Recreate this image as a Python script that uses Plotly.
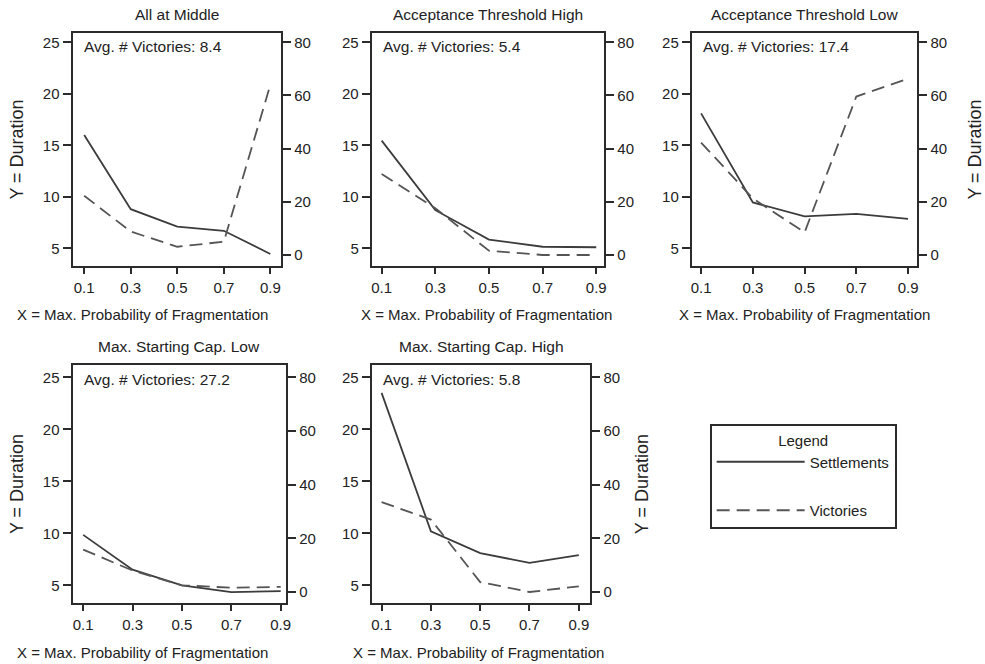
import plotly.graph_objects as go

W, H = 985, 664

# ---------------- data ----------------
x_vals = [0.1, 0.3, 0.5, 0.7, 0.9]
x_ticklabels = ["0.1", "0.3", "0.5", "0.7", "0.9"]
left_ticks = [5, 10, 15, 20, 25]
right_ticks = [0, 20, 40, 60, 80]

panel_titles = [
    "All at Middle",
    "Acceptance Threshold High",
    "Acceptance Threshold Low",
    "Max. Starting Cap. Low",
    "Max. Starting Cap. High",
]
avg_victories = [8.4, 5.4, 17.4, 27.2, 5.8]
x_title = "X = Max. Probability of Fragmentation"
y_title = "Y = Duration"

settlements_middle = [16.0, 8.8, 7.1, 6.7, 4.45]
settlements_acc_high = [15.45, 8.7, 5.85, 5.15, 5.1]
settlements_acc_low = [18.1, 9.45, 8.1, 8.35, 7.85]
settlements_cap_low = [9.85, 6.5, 5.0, 4.35, 4.45]
settlements_cap_high = [23.5, 10.2, 8.1, 7.15, 7.9]

victories_middle = [22.3, 8.8, 3.1, 5.0, 64.0]
victories_acc_high = [30.5, 17.6, 1.6, 0.0, 0.0]
victories_acc_low = [42.3, 21.3, 8.5, 59.6, 66.3]
victories_cap_low = [15.8, 8.0, 2.5, 1.6, 1.9]
victories_cap_high = [33.5, 27.0, 3.7, 0.0, 2.1]

settlements = [settlements_middle, settlements_acc_high, settlements_acc_low,
               settlements_cap_low, settlements_cap_high]
victories = [victories_middle, victories_acc_high, victories_acc_low,
             victories_cap_low, victories_cap_high]

# ---------------- layout geometry (pixels) ----------------
boxes = [  # left, right, top, bottom
    (72, 282, 33, 266),
    (373, 607, 33, 266),
    (695, 922, 33, 266),
    (72, 287, 365, 603),
    (373, 593, 365, 603),
]
x_title_pos = [(142, 314), (488, 314), (808, 314), (142, 652), (480, 652)]
x_ranges = [
    [0.050, 0.947],
    [0.063, 0.930],
    [0.064, 0.936],
    [0.057, 0.9225],
    [0.060, 0.947],
]
left_ranges = [[3.28, 25.9]] * 3 + [[3.30, 26.18]] * 2
right_ranges = [[-4.14, 83.5]] * 3 + [[-4.1, 84.6]] * 2
left_title = [True, False, False, True, False]
right_title = [False, False, True, False, True]
right_standoff = [16, 16, 24, 16, 16]

FONT = "Liberation Sans, Arial, Helvetica, sans-serif"
TXT = "#222222"
AX = "#2b2b2b"
SOLID_C = "#3c3c3c"
DASH_C = "#555555"

fig = go.Figure()
layout = dict(
    width=W, height=H,
    margin=dict(l=0, r=0, t=0, b=0),
    paper_bgcolor="white", plot_bgcolor="white",
    font=dict(family=FONT, size=15, color=TXT),
    showlegend=True,
    annotations=[],
)

for i in range(5):
    n = i + 1
    nr = i + 6
    l, r, t, b = boxes[i]
    xa = "x" if n == 1 else f"x{n}"
    ya = "y" if n == 1 else f"y{n}"
    yr = f"y{nr}"

    fig.add_trace(go.Scatter(
        x=x_vals, y=settlements[i], mode="lines", name="Settlements",
        line=dict(color=SOLID_C, width=1.8), xaxis=xa, yaxis=ya,
        showlegend=(i == 0), legendgroup="s"))
    fig.add_trace(go.Scatter(
        x=x_vals, y=victories[i], mode="lines", name="Victories",
        line=dict(color=DASH_C, width=1.8, dash="13px,7px"), xaxis=xa, yaxis=yr,
        showlegend=(i == 0), legendgroup="v"))

    layout[f"xaxis{n}"] = dict(
        domain=[l / W, r / W], range=x_ranges[i], anchor=ya,
        tickvals=x_vals, ticktext=x_ticklabels, ticks="outside", ticklen=6,
        tickcolor=AX, tickwidth=1.5, ticklabelstandoff=1,
        showline=True, linecolor=AX, linewidth=2, mirror=True,
        showgrid=False, zeroline=False,
    )
    layout[f"yaxis{n}"] = dict(
        domain=[1 - b / H, 1 - t / H], range=left_ranges[i], anchor=xa,
        tickvals=left_ticks, ticks="outside", ticklen=8, tickcolor=AX, tickwidth=1.5,
        showline=True, linecolor=AX, linewidth=2,
        showgrid=False, zeroline=False,
        title=dict(text=y_title if left_title[i] else "", standoff=15),
    )
    layout[f"yaxis{nr}"] = dict(
        overlaying=ya, side="right", anchor=xa, range=right_ranges[i],
        tickvals=right_ticks, ticks="outside", ticklen=8, tickcolor=AX, tickwidth=1.5,
        showline=True, linecolor=AX, linewidth=2,
        showgrid=False, zeroline=False,
        title=dict(text=y_title if right_title[i] else "", standoff=right_standoff[i]),
    )

    layout["annotations"].append(dict(
        text=panel_titles[i], xref="paper", yref="paper",
        x=(l + r) / 2 / W, y=1 - (t - 19) / H, xanchor="center", yanchor="middle",
        showarrow=False, font=dict(size=15.5, color=TXT)))
    layout["annotations"].append(dict(
        text=f"Avg. # Victories: {avg_victories[i]}", xref="paper", yref="paper",
        x=(l + 9) / W, y=1 - (t + 14) / H, xanchor="left", yanchor="middle",
        showarrow=False, font=dict(size=15.5, color=TXT)))
    xt, yt = x_title_pos[i]
    layout["annotations"].append(dict(
        text=x_title, xref="paper", yref="paper",
        x=xt / W, y=1 - yt / H, xanchor="center", yanchor="middle",
        showarrow=False, font=dict(size=15, color=TXT)))

layout["legend"] = dict(
    x=713 / W, y=1 - 424 / H, xanchor="left", yanchor="top",
    bordercolor=AX, borderwidth=2, bgcolor="white",
    title=dict(text="Legend", side="top center", font=dict(size=15)),
    font=dict(size=15), tracegroupgap=26, itemwidth=88,
    entrywidth=186, entrywidthmode="pixels",
)

fig.update_layout(**layout)
fig.write_html("out.html")
